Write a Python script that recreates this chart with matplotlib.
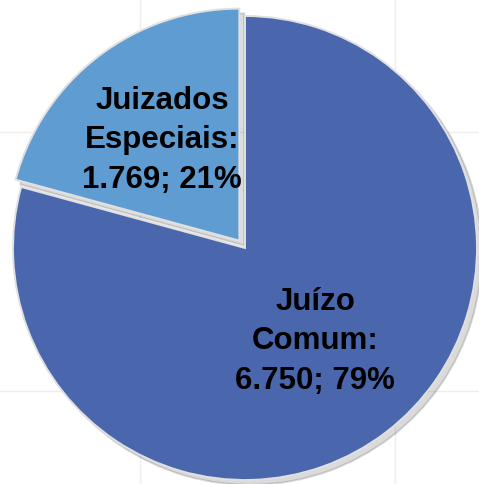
import numpy as np
import matplotlib.pyplot as plt
from matplotlib.lines import Line2D

# data
categories = ['Juizados\nEspeciais', 'Juízo\nComum']
values = [1769, 6750]
colors = ['#5f9cd1', '#4a66ad']
explode = [0.04, 0.0]
label_dist = [0.55, 0.50]

total = sum(values)

def fmt(v):
    return f'{v:,}'.replace(',', '.')

labels = [f'{c}:\n{fmt(v)}; {round(100 * v / total)}%' for c, v in zip(categories, values)]

fig = plt.figure(figsize=(4.79, 4.85), dpi=100)
fig.patch.set_facecolor('white')

# faint background grid (slide background)
for x in [140 / 479, 395 / 479]:
    fig.add_artist(Line2D([x, x], [0, 1], color='#eeeeee', lw=1, zorder=0))
for y in [1 - 133 / 485, 1 - 392 / 485]:
    fig.add_artist(Line2D([0, 1], [y, y], color='#eeeeee', lw=1, zorder=0))

ax = fig.add_axes([0, 0, 1, 1])
ax.set_facecolor('none')

wedges, _ = ax.pie(values, colors=colors, explode=explode, startangle=90,
                   counterclock=True, radius=1.0,
                   wedgeprops=dict(edgecolor='#e0e0e0', linewidth=1.4),
                   shadow=dict(ox=0.015, oy=-0.015, shade=0.9, alpha=0.15))

for w, lab, d in zip(wedges, labels, label_dist):
    ang = np.deg2rad((w.theta1 + w.theta2) / 2)
    cx, cy = w.center
    ax.text(cx + d * np.cos(ang), cy + d * np.sin(ang), lab,
            ha='center', va='center', fontsize=22.5, fontweight='bold',
            family=['Liberation Sans Narrow', 'Liberation Sans', 'DejaVu Sans'],
            linespacing=1.42, color='black')

ax.set_xlim(-245 / 232, (479 - 245) / 232)
ax.set_ylim(-(485 - 249) / 232, 249 / 232)
ax.set_aspect('equal')
ax.axis('off')

plt.savefig('out.png', dpi=100)
